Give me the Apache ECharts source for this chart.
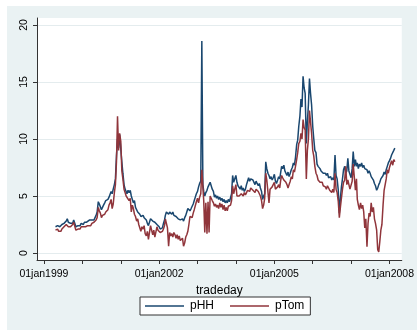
<!DOCTYPE html>
<html>
<head>
<meta charset="utf-8">
<script src="https://cdn.jsdelivr.net/npm/echarts@6/dist/echarts.min.js"></script>
<style>
  html, body { margin: 0; padding: 0; background: #fff; }
  #chart { position: absolute; left: 7px; top: 6px; width: 410px; height: 324px; background: #eaf2f3; }
</style>
</head>
<body>
<div id="chart"></div>
<script>
// trading dates, roughly every ten days
const dates = [
  '1999-04-21','1999-05-01','1999-05-11','1999-05-21','1999-06-01','1999-06-11','1999-06-21','1999-07-01','1999-07-11','1999-07-21','1999-08-01','1999-08-11','1999-08-21','1999-09-01','1999-09-11','1999-09-21','1999-10-01','1999-10-11','1999-10-21','1999-11-01','1999-11-11','1999-11-21','1999-12-01','1999-12-11','1999-12-21',
  '2000-01-01','2000-01-11','2000-01-21','2000-02-01','2000-02-11','2000-02-21','2000-03-01','2000-03-11','2000-03-21','2000-04-01','2000-04-11','2000-04-21','2000-05-01','2000-05-11','2000-05-21','2000-06-01','2000-06-11','2000-06-21','2000-07-01','2000-07-11','2000-07-21','2000-08-01','2000-08-11','2000-08-21','2000-09-01','2000-09-11','2000-09-21','2000-10-01','2000-10-11','2000-10-21','2000-11-01','2000-11-11','2000-11-21','2000-12-01','2000-12-11','2000-12-21',
  '2001-01-01','2001-01-11','2001-01-21','2001-02-01','2001-02-11','2001-02-21','2001-03-01','2001-03-11','2001-03-21','2001-04-01','2001-04-11','2001-04-21','2001-05-01','2001-05-11','2001-05-21','2001-06-01','2001-06-11','2001-06-21','2001-07-01','2001-07-11','2001-07-21','2001-08-01','2001-08-11','2001-08-21','2001-09-01','2001-09-11','2001-09-21','2001-10-01','2001-10-11','2001-10-21','2001-11-01','2001-11-11','2001-11-21','2001-12-01','2001-12-11','2001-12-21',
  '2002-01-01','2002-01-11','2002-01-21','2002-02-01','2002-02-11','2002-02-21','2002-03-01','2002-03-11','2002-03-21','2002-04-01','2002-04-11','2002-04-21','2002-05-01','2002-05-11','2002-05-21','2002-06-01','2002-06-11','2002-06-21','2002-07-01','2002-07-11','2002-07-21','2002-08-01','2002-08-11','2002-08-21','2002-09-01','2002-09-11','2002-09-21','2002-10-01','2002-10-11','2002-10-21','2002-11-01','2002-11-11','2002-11-21','2002-12-01','2002-12-11','2002-12-21',
  '2003-01-01','2003-01-11','2003-01-21','2003-02-01','2003-02-11','2003-02-21','2003-03-01','2003-03-11','2003-03-21','2003-04-01','2003-04-11','2003-04-21','2003-05-01','2003-05-11','2003-05-21','2003-06-01','2003-06-11','2003-06-21','2003-07-01','2003-07-11','2003-07-21','2003-08-01','2003-08-11','2003-08-21','2003-09-01','2003-09-11','2003-09-21','2003-10-01','2003-10-11','2003-10-21','2003-11-01','2003-11-11','2003-11-21','2003-12-01','2003-12-11','2003-12-21',
  '2004-01-01','2004-01-11','2004-01-21','2004-02-01','2004-02-11','2004-02-21','2004-03-01','2004-03-11','2004-03-21','2004-04-01','2004-04-11','2004-04-21','2004-05-01','2004-05-11','2004-05-21','2004-06-01','2004-06-11','2004-06-21','2004-07-01','2004-07-11','2004-07-21','2004-08-01','2004-08-11','2004-08-21','2004-09-01','2004-09-11','2004-09-21','2004-10-01','2004-10-11','2004-10-21','2004-11-01','2004-11-11','2004-11-21','2004-12-01','2004-12-11','2004-12-21',
  '2005-01-01','2005-01-11','2005-01-21','2005-02-01','2005-02-11','2005-02-21','2005-03-01','2005-03-11','2005-03-21','2005-04-01','2005-04-11','2005-04-21','2005-05-01','2005-05-11','2005-05-21','2005-06-01','2005-06-11','2005-06-21','2005-07-01','2005-07-11','2005-07-21','2005-08-01','2005-08-11','2005-08-21','2005-09-01','2005-09-11','2005-09-21','2005-10-01','2005-10-11','2005-10-21','2005-11-01','2005-11-11','2005-11-21','2005-12-01','2005-12-11','2005-12-21',
  '2006-01-01','2006-01-11','2006-01-21','2006-02-01','2006-02-11','2006-02-21','2006-03-01','2006-03-11','2006-03-21','2006-04-01','2006-04-11','2006-04-21','2006-05-01','2006-05-11','2006-05-21','2006-06-01','2006-06-11','2006-06-21','2006-07-01','2006-07-11','2006-07-21','2006-08-01','2006-08-11','2006-08-21','2006-09-01','2006-09-11','2006-09-21','2006-10-01','2006-10-11','2006-10-21','2006-11-01','2006-11-11','2006-11-21','2006-12-01','2006-12-11','2006-12-21',
  '2007-01-01','2007-01-11','2007-01-21','2007-02-01','2007-02-11','2007-02-21','2007-03-01','2007-03-11','2007-03-21','2007-04-01','2007-04-11','2007-04-21','2007-05-01','2007-05-11','2007-05-21','2007-06-01','2007-06-11','2007-06-21','2007-07-01','2007-07-11','2007-07-21','2007-08-01','2007-08-11','2007-08-21','2007-09-01','2007-09-11','2007-09-21','2007-10-01','2007-10-11','2007-10-21','2007-11-01','2007-11-11','2007-11-21','2007-12-01','2007-12-11','2007-12-21',
  '2008-01-01','2008-01-11','2008-01-21','2008-02-01','2008-02-11','2008-02-21'
];

const pHH = [
  2.3, 2.2, 2.4, 2.3, 2.3, 2.2, 2.5, 2.4, 2.6, 2.5, 2.8, 3.0, 2.7, 2.8, 2.6, 2.7, 2.6, 2.9, 2.8, 2.3, 2.2, 2.4, 2.5, 2.4, 2.6,
  2.6, 2.5, 2.7, 2.8, 2.7, 2.8, 2.7, 2.9, 2.8, 2.9, 3.0, 2.9, 3.1, 3.3, 3.6, 4.5, 4.3, 4.2, 3.8, 4.0, 4.2, 4.4, 4.6, 4.5, 4.7, 4.9, 5.0, 5.4, 5.2, 5.6, 6.0, 6.5, 8.5, 10.0, 9.2, 10.4,
  10.3, 8.0, 7.0, 6.0, 5.6, 5.4, 5.2, 5.5, 5.3, 5.5, 5.0, 4.7, 4.4, 4.6, 4.0, 3.9, 3.6, 3.7, 3.4, 3.2, 3.3, 3.3, 3.1, 3.2, 2.9, 2.6, 2.4, 2.3, 3.0, 3.1, 2.8, 2.9, 2.7, 2.6, 2.5, 2.4,
  2.3, 2.1, 2.0, 2.2, 2.6, 2.9, 3.3, 3.6, 3.5, 3.4, 3.6, 3.5, 3.4, 3.6, 3.3, 3.3, 3.2, 3.1, 3.0, 3.1, 2.9, 2.9, 3.0, 2.8, 3.1, 3.3, 3.6, 3.9, 4.0, 3.7, 3.9, 4.1, 4.3, 4.6, 4.9, 5.2,
  5.4, 5.8, 6.1, 6.3, 18.6, 6.0, 5.4, 5.0, 5.3, 5.5, 5.8, 6.0, 6.2, 5.9, 5.6, 5.4, 4.9, 5.1, 4.8, 5.0, 4.7, 4.9, 4.6, 4.8, 4.5, 4.7, 4.4, 4.6, 4.4, 4.7, 4.5, 4.6, 5.2, 6.8, 6.2, 6.5,
  6.8, 6.2, 5.9, 5.8, 5.6, 5.9, 5.5, 5.7, 5.4, 5.6, 6.0, 6.3, 6.6, 6.3, 6.5, 6.6, 6.4, 6.2, 6.0, 6.3, 6.1, 5.9, 6.1, 5.7, 5.4, 4.7, 5.0, 5.2, 8.0, 7.4, 7.0, 6.8, 6.5, 6.7, 6.4, 6.6,
  6.9, 6.3, 6.1, 6.4, 6.7, 6.5, 7.0, 7.6, 7.4, 7.7, 7.2, 7.0, 6.8, 7.1, 6.7, 7.0, 7.3, 7.5, 7.9, 7.7, 8.4, 9.5, 9.9, 11.1, 12.0, 13.5, 12.8, 15.5, 14.5, 14.0, 9.6, 11.5, 13.0, 15.3, 14.0, 13.0,
  11.1, 10.0, 9.0, 8.8, 7.8, 7.6, 7.6, 7.4, 7.2, 7.3, 7.0, 7.1, 7.0, 6.8, 7.0, 6.6, 6.5, 6.7, 6.4, 6.6, 6.4, 8.6, 6.8, 6.5, 5.5, 3.5, 4.8, 5.8, 6.5, 7.3, 7.6, 7.0, 7.2, 8.3, 7.2, 6.9,
  6.6, 7.4, 8.9, 7.6, 8.2, 7.6, 7.9, 7.4, 7.8, 7.6, 7.9, 7.5, 7.7, 7.4, 7.5, 7.3, 7.0, 7.2, 7.0, 6.7, 6.8, 6.4, 6.1, 5.9, 5.5, 5.7, 6.0, 6.2, 6.5, 6.4, 6.8, 7.1, 6.9, 7.3, 7.6, 7.9,
  8.1, 8.3, 8.6, 8.5, 9.0, 9.2
];

const pTom = [
  2.0, 2.0, 2.1, 1.9, 2.0, 1.9, 2.1, 2.1, 2.3, 2.2, 2.5, 2.6, 2.3, 2.4, 2.3, 2.2, 2.5, 2.7, 2.8, 2.0, 1.9, 2.1, 2.2, 2.1, 2.3,
  2.2, 2.3, 2.2, 2.3, 2.2, 2.4, 2.4, 2.5, 2.4, 2.6, 2.5, 2.7, 2.8, 2.9, 3.1, 4.0, 3.7, 3.5, 3.1, 3.3, 3.2, 3.4, 3.6, 3.5, 3.8, 4.2, 4.4, 4.7, 3.9, 4.3, 5.3, 6.0, 8.0, 12.0, 9.0, 10.5,
  9.8, 7.2, 6.5, 5.6, 5.3, 5.0, 5.0, 4.9, 4.6, 4.8, 3.6, 4.2, 3.9, 3.4, 3.2, 2.8, 3.0, 2.5, 2.4, 1.9, 2.3, 2.1, 2.4, 1.7, 1.5, 1.9, 1.2, 1.1, 2.4, 2.5, 1.6, 2.0, 1.4, 1.4, 2.3, 2.0,
  2.0, 1.8, 1.7, 1.9, 2.1, 2.4, 3.0, 2.6, 2.2, 0.6, 1.8, 1.5, 1.7, 1.4, 1.8, 1.6, 1.3, 1.6, 1.2, 1.5, 1.1, 1.0, 1.3, 0.6, 0.9, 1.4, 1.6, 1.9, 2.5, 3.2, 3.3, 3.1, 3.5, 3.8, 3.9, 4.5,
  4.8, 4.4, 4.9, 5.2, 7.3, 5.8, 4.6, 1.8, 4.4, 1.7, 4.5, 1.8, 5.0, 4.8, 4.6, 4.4, 4.1, 4.3, 4.0, 4.2, 3.9, 4.4, 4.0, 4.3, 3.8, 4.2, 3.7, 4.0, 3.7, 4.1, 4.0, 4.2, 4.6, 5.9, 5.2, 5.6,
  6.0, 5.0, 4.9, 5.0, 4.9, 5.2, 5.2, 5.0, 5.3, 5.1, 5.3, 5.5, 5.6, 5.4, 5.7, 5.8, 5.5, 5.4, 5.3, 5.6, 5.5, 5.4, 5.5, 5.0, 4.6, 3.9, 4.2, 4.8, 7.0, 6.4, 6.3, 4.4, 5.6, 5.5, 5.8, 6.0,
  6.2, 5.6, 5.5, 5.8, 6.0, 5.7, 6.3, 6.8, 6.6, 6.4, 6.5, 6.2, 6.0, 5.7, 6.0, 6.3, 6.7, 6.5, 7.3, 7.1, 7.6, 8.2, 8.8, 9.6, 9.8, 10.5, 10.0, 11.7, 11.0, 10.8, 6.5, 9.0, 10.0, 12.5, 11.5, 10.5,
  9.0, 8.5, 7.6, 7.0, 6.8, 6.4, 6.5, 6.2, 6.3, 6.2, 5.9, 6.0, 5.8, 5.6, 5.9, 5.7, 5.5, 5.4, 5.3, 5.6, 5.3, 7.0, 5.6, 5.3, 4.5, 3.1, 4.0, 4.8, 5.6, 6.2, 6.4, 7.6, 6.0, 6.4, 6.0, 5.6,
  5.6, 6.3, 7.8, 6.6, 5.5, 6.5, 4.7, 4.2, 3.8, 4.4, 3.9, 4.2, 3.6, 2.2, 3.0, 0.55, 2.6, 3.5, 3.2, 4.4, 3.6, 4.0, 3.0, 2.6, 2.0, 0.3, 0.1, 1.0, 2.0, 2.5, 4.2, 5.5, 6.0, 6.5, 7.3, 7.0,
  7.5, 7.8, 8.1, 7.7, 8.2, 8.0
];

const yTicks = [0, 5, 10, 15, 20];
const tickYears = [1999, 2000, 2001, 2002, 2003, 2004, 2005, 2006, 2007, 2008];
const labelYears = [1999, 2002, 2005, 2008];

// x is a plain value axis in milliseconds so custom tick positions can be used
const ms = s => { const p = s.split('-'); return new Date(+p[0], +p[1] - 1, +p[2]).getTime(); };
const jan1 = y => new Date(y, 0, 1).getTime();
const font = "'Liberation Sans Narrow', 'Arial Narrow', 'Liberation Sans', Arial, sans-serif";

const chart = echarts.init(document.getElementById('chart'));
chart.setOption({
  animation: false,
  textStyle: { fontFamily: font },
  grid: {
    left: 30, top: 12, width: 369, height: 242,
    show: true, backgroundColor: '#fff', borderWidth: 0
  },
  xAxis: {
    type: 'value',
    min: ms('1998-10-27'),
    max: ms('2008-04-27'),
    name: 'tradeday',
    nameLocation: 'middle',
    nameGap: 19,
    nameTextStyle: { color: '#000', fontSize: 12, fontFamily: font },
    axisLine: { show: true, onZero: false, lineStyle: { color: '#333', width: 1 } },
    axisTick: { show: true, length: 4, lineStyle: { color: '#333' }, customValues: tickYears.map(jan1) },
    axisLabel: {
      color: '#000', fontSize: 10.5, margin: 9, fontFamily: font,
      customValues: labelYears.map(jan1),
      formatter: v => '01jan' + new Date(v).getFullYear()
    },
    splitLine: { show: false }
  },
  yAxis: {
    type: 'value',
    min: -0.614,
    max: 20.614,
    axisLine: { show: true, lineStyle: { color: '#333', width: 1 } },
    axisTick: { show: true, length: 4, lineStyle: { color: '#333' }, customValues: yTicks },
    axisLabel: {
      color: '#000', fontSize: 10.5, margin: 7, rotate: 90, fontFamily: font,
      customValues: yTicks
    },
    splitLine: { show: true, lineStyle: { color: '#e4ecee', width: 1 } }
  },
  legend: {
    left: 133, top: 291,
    backgroundColor: '#fff', borderColor: '#333', borderWidth: 1,
    padding: [3, 6, 3, 5],
    icon: 'rect',
    itemWidth: 39, itemHeight: 1.5, itemGap: 16,
    textStyle: { color: '#000', fontSize: 12, fontFamily: font, padding: [0, 0, 0, 1] },
    data: ['pHH', 'pTom']
  },
  series: [
    {
      name: 'pHH', type: 'line', symbol: 'none', showSymbol: false,
      lineStyle: { color: '#1a476f', width: 1.5 }, itemStyle: { color: '#1a476f' },
      data: dates.map((d, i) => [ms(d), pHH[i]])
    },
    {
      name: 'pTom', type: 'line', symbol: 'none', showSymbol: false,
      lineStyle: { color: '#90353b', width: 1.5 }, itemStyle: { color: '#90353b' },
      data: dates.map((d, i) => [ms(d), pTom[i]])
    }
  ]
});
</script>
</body>
</html>
